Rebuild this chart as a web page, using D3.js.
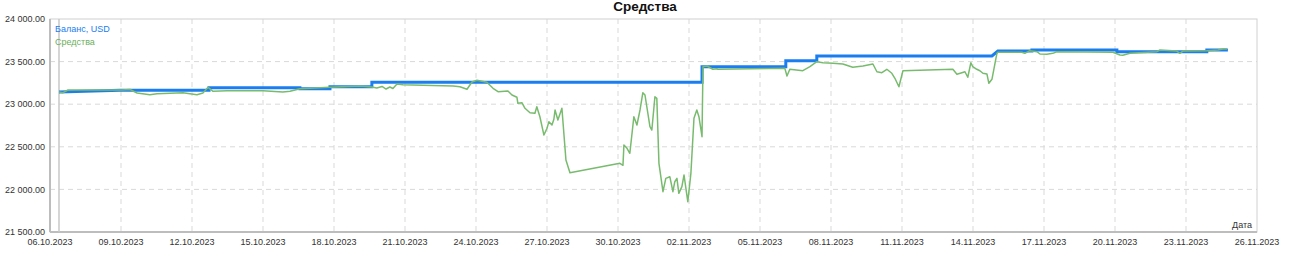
<!DOCTYPE html>
<html>
<head>
<meta charset="utf-8">
<script src="https://cdn.jsdelivr.net/npm/d3@7"></script>
<style>
  body { margin: 0; background: #fff; }
  svg { display: block; font-family: "Liberation Sans", Arial, sans-serif; }
</style>
</head>
<body>
<svg id="chart"></svg>
<script>
// days since 06.10.2023 00:00 and values
var balanceDays = [0.38, 2.96, 6.72, 6.72, 10.56, 10.56, 11.83, 11.83, 13.60, 13.60, 27.55, 27.55,
  31.09, 31.09, 32.40, 32.40, 39.80, 40.05, 41.49, 41.49, 45.08, 45.08, 48.88, 48.88, 49.77];
var balanceValues = [23143, 23165, 23165, 23194, 23194, 23180, 23180, 23205, 23205, 23257, 23257, 23440,
  23440, 23511, 23511, 23566, 23566, 23624, 23624, 23636, 23636, 23616, 23616, 23636, 23636];

var equityDays = [0.38, 0.55, 0.76, 3.04, 3.38, 3.68, 4.22, 4.52, 5.62, 5.91, 6.21, 6.46, 6.68, 6.89,
  7.48, 9.00, 9.84, 10.14, 10.56, 11.83, 13.10, 13.60, 13.81, 14.03, 14.20, 14.36, 14.49, 14.66, 14.91,
  17.03, 17.32, 17.62, 17.83, 18.04, 18.46, 18.72, 18.93, 19.35, 19.52, 19.73, 19.77, 19.94, 20.07,
  20.28, 20.49, 20.57, 20.70, 20.87, 21.00, 21.08, 21.21, 21.29, 21.34, 21.46, 21.63, 21.80, 21.97,
  24.08, 24.21, 24.25, 24.38, 24.50, 24.67, 24.80, 24.93, 25.05, 25.14, 25.35, 25.43, 25.56, 25.64,
  25.73, 25.90, 26.02, 26.19, 26.32, 26.40, 26.49, 26.57, 26.70, 26.79, 26.91, 26.95, 27.08, 27.21,
  27.33, 27.42, 27.55, 27.59, 27.76, 28.01, 28.18, 28.22, 31.05, 31.14, 31.26, 31.81, 32.11, 32.40,
  32.66, 33.08, 33.50, 33.92, 34.35, 34.77, 34.94, 35.15, 35.36, 35.57, 35.70, 35.87, 36.04, 38.15,
  38.32, 38.53, 38.66, 38.78, 38.91, 38.99, 39.16, 39.29, 39.42, 39.59, 39.67, 39.80, 40.01, 40.05,
  41.06, 41.19, 41.40, 41.70, 41.83, 42.12, 42.37, 42.54, 44.91, 45.21, 45.33, 45.63, 46.77, 46.90,
  47.61, 47.74, 47.87, 48.88, 49.35, 49.56, 49.73];
var equityValues = [23143, 23135, 23167, 23167, 23173, 23131, 23111, 23123, 23135, 23123, 23111, 23131, 23198, 23151,
  23158, 23158, 23143, 23151, 23182, 23198, 23214, 23202, 23190, 23208, 23178, 23202, 23184, 23237, 23229,
  23214, 23205, 23175, 23261, 23281, 23257, 23187, 23147, 23155, 23108, 23081, 23011, 23018, 22952,
  22900, 22893, 22971, 22853, 22638, 22717, 22795, 22756, 22823, 22932, 22815, 22952, 22345, 22196,
  22306, 22283, 22521, 22482, 22424, 22853, 22756, 22932, 23135, 23108, 22736, 22697, 23088, 23069,
  22306, 21973, 22130, 22149, 21973, 22090, 22130, 21954, 22032, 22169, 21934, 21856, 22189, 22835,
  22932, 22853, 22619, 23440, 23448, 23410, 23417, 23410, 23421, 23331, 23410, 23393, 23440, 23499,
  23487, 23480, 23472, 23433, 23448, 23472, 23381, 23370, 23410, 23363, 23304, 23205, 23393, 23410,
  23351, 23370, 23381, 23316, 23487, 23440, 23410, 23393, 23363, 23354, 23245, 23292, 23597, 23609,
  23609, 23597, 23628, 23616, 23589, 23586, 23597, 23616, 23609, 23577, 23574, 23597, 23616, 23636,
  23624, 23597, 23624, 23628, 23636, 23648, 23648];

var yTicks = [21500, 22000, 22500, 23000, 23500, 24000];
var seriesNames = ['Баланс, USD', 'Средства'];

var svgWidth = 1290, svgHeight = 253;
var margin = {top: 19, right: 33, bottom: 21, left: 50};
var width = svgWidth - margin.left - margin.right,
    height = svgHeight - margin.top - margin.bottom;

var start = new Date(Date.UTC(2023, 9, 6));
var end = new Date(Date.UTC(2023, 10, 26));
function toDate(d) { return new Date(start.getTime() + d * 864e5); }

var x = d3.scaleUtc().domain([start, end]).range([0, width]);
var y = d3.scaleLinear().domain([21500, 24000]).range([height, 0]);

var locale = d3.formatLocale({decimal: '.', thousands: ' ', grouping: [3], currency: ['', '']});
var fmtY = locale.format(',.2f');
var fmtX = d3.utcFormat('%d.%m.%Y');

var svg = d3.select('#chart').attr('width', svgWidth).attr('height', svgHeight);

svg.append('text')
    .attr('x', 645).attr('y', 11)
    .attr('text-anchor', 'middle')
    .style('font-size', '13.5px').style('font-weight', 'bold').style('fill', '#111')
    .text('Средства');

var g = svg.append('g').attr('transform', 'translate(' + margin.left + ',' + margin.top + ')');

var xTicks = d3.utcDay.range(start, d3.utcDay.offset(end, 1), 3);

// grid
g.selectAll('.hgrid').data(yTicks.slice(1, -1)).enter().append('line')
    .attr('x1', 0).attr('x2', width)
    .attr('y1', function(d) { return y(d); }).attr('y2', function(d) { return y(d); })
    .attr('stroke', '#d9d9d9').attr('stroke-dasharray', '5,4');
g.selectAll('.vgrid').data(xTicks.slice(1, -1)).enter().append('line')
    .attr('x1', function(d) { return x(d); }).attr('x2', function(d) { return x(d); })
    .attr('y1', 0).attr('y2', height)
    .attr('stroke', '#d9d9d9').attr('stroke-dasharray', '5,4');

// frame
g.append('rect').attr('width', width).attr('height', height)
    .attr('fill', 'none').attr('stroke', '#d0d0d0');
g.append('line').attr('x1', 0).attr('x2', 0).attr('y1', 0).attr('y2', height)
    .attr('stroke', '#bdbdbd').attr('stroke-width', 2);
g.append('line').attr('x1', 0).attr('x2', width).attr('y1', height).attr('y2', height)
    .attr('stroke', '#bdbdbd').attr('stroke-width', 2);
// start of history marker
g.append('line')
    .attr('x1', x(toDate(balanceDays[0]))).attr('x2', x(toDate(balanceDays[0])))
    .attr('y1', 0).attr('y2', height)
    .attr('stroke', '#c8c8c8').attr('stroke-width', 1.5);

// tick labels
g.selectAll('.ylab').data(yTicks).enter().append('text')
    .attr('x', -5).attr('y', function(d) { return y(d); })
    .attr('dy', '0.35em').attr('text-anchor', 'end')
    .style('font-size', '9px').style('fill', '#333')
    .text(function(d) { return fmtY(d); });
g.selectAll('.xlab').data(xTicks).enter().append('text')
    .attr('x', function(d) { return x(d); }).attr('y', height + 12.5)
    .attr('text-anchor', 'middle')
    .style('font-size', '9px').style('fill', '#333')
    .text(function(d) { return fmtX(d); });

g.append('text').attr('x', width - 5).attr('y', height - 4)
    .attr('text-anchor', 'end').style('font-size', '9px').style('fill', '#333')
    .text('Дата');

// lines
var line = d3.line()
    .x(function(d) { return x(toDate(d[0])); })
    .y(function(d) { return y(d[1]); });

g.append('path')
    .datum(d3.zip(balanceDays, balanceValues))
    .attr('d', line)
    .attr('fill', 'none').attr('stroke', '#1a7df0').attr('stroke-width', 3);

g.append('path')
    .datum(d3.zip(equityDays, equityValues))
    .attr('d', line)
    .attr('fill', 'none').attr('stroke', '#78bb6e').attr('stroke-width', 1.5)
    .attr('stroke-linejoin', 'round');

// legend
var colors = ['#1a7df0', '#6aaf5c'];
g.selectAll('.leg').data(seriesNames).enter().append('text')
    .attr('x', 5).attr('y', function(d, i) { return 13 + i * 12.5; })
    .style('font-size', '9px')
    .style('fill', function(d, i) { return colors[i]; })
    .text(function(d) { return d; });
</script>
</body>
</html>
